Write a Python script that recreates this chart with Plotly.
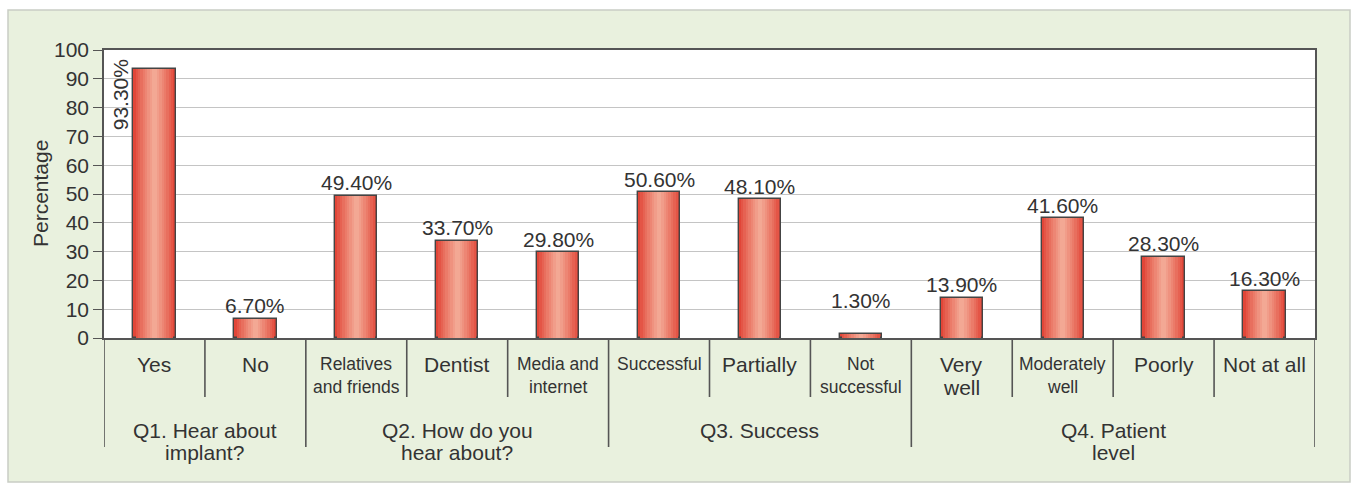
import plotly.graph_objects as go

# ---- data ----
categories = ["Yes", "No",
              "Relatives<br>and friends", "Dentist", "Media and<br>internet",
              "Successful", "Partially", "Not<br>successful",
              "Very<br>well", "Moderately<br>well", "Poorly", "Not at all"]
values = [93.3, 6.7, 49.4, 33.7, 29.8, 50.6, 48.1, 1.3, 13.9, 41.6, 28.3, 16.3]
value_labels = ["93.30%", "6.70%", "49.40%", "33.70%", "29.80%", "50.60%",
                "48.10%", "1.30%", "13.90%", "41.60%", "28.30%", "16.30%"]
groups = ["Q1. Hear about<br>implant?", "Q2. How do you<br>hear about?",
          "Q3. Success", "Q4. Patient<br>level"]
group_sizes = [2, 3, 3, 4]

# ---- styling ----
W, H = 1353, 486
L, R, T, B = 104, 1315, 50, 338          # plot area in pixels
TEXT = "#333333"
LINE = "#555555"
FONT = "Liberation Sans, Arial, sans-serif"
small_cats = {2, 4, 5, 7, 9}               # longer labels set in a smaller size
rotated_labels = {0}
label_lift = {7: 21}

def px_x(p):
    return (p - L) / (R - L)

def px_y(p):
    return (B - p) / (B - T)

n = len(categories)
xs = list(range(n))

fig = go.Figure()

# bars drawn as stacked layers of decreasing width to give a cylindrical shading
edge = (225, 70, 56)
centre = (243, 168, 148)
layers = 9
bar_w = 0.42
for k in range(layers):
    t = (k / (layers - 1)) ** 0.9
    col = tuple(round(edge[i] + (centre[i] - edge[i]) * t) for i in range(3))
    w = bar_w * (1 - k / layers)
    fig.add_trace(go.Bar(
        x=xs, y=values, width=w,
        marker=dict(color="rgb(%d,%d,%d)" % col,
                    line=dict(color="#444444" if k == 0 else "rgba(0,0,0,0)",
                              width=1.4 if k == 0 else 0)),
        hoverinfo="skip", showlegend=False))

shapes = []
# light green panel behind the chart, white plotting area on top of it
shapes.append(dict(type="rect", xref="paper", yref="paper", layer="below",
                   x0=px_x(8), x1=px_x(1350), y0=px_y(482), y1=px_y(10),
                   fillcolor="#e9f1de", line=dict(color="#c9cdc5", width=1.5)))
shapes.append(dict(type="rect", xref="paper", yref="paper", layer="below",
                   x0=0, x1=1, y0=0, y1=1,
                   fillcolor="white", line=dict(width=0)))

# separators between categories and groups
group_edges = set()
acc = 0
group_centres = []
for s in group_sizes:
    group_edges.add(acc)
    group_centres.append(acc + (s - 1) / 2)
    acc += s
group_edges.add(acc)
for b in range(n + 1):
    long = b in group_edges
    shapes.append(dict(type="line", xref="x", yref="paper",
                       x0=b - 0.5, x1=b - 0.5, y0=0,
                       y1=px_y(447 if long else 397),
                       line=dict(color=LINE, width=1.6)))

annotations = []
# value labels
for i, (v, lab) in enumerate(zip(values, value_labels)):
    if i in rotated_labels:
        annotations.append(dict(x=i, y=v, xref="x", yref="y", text=lab,
                                textangle=-90, showarrow=False,
                                xanchor="center", yanchor="top",
                                xshift=-34, yshift=12,
                                font=dict(family=FONT, size=21, color=TEXT)))
    else:
        annotations.append(dict(x=i, y=v, xref="x", yref="y", text=lab,
                                showarrow=False, xanchor="center", yanchor="middle",
                                yshift=13 + label_lift.get(i, 0),
                                font=dict(family=FONT, size=21, color=TEXT)))

# category labels, one annotation per line
LINE_GAP = 23
for i, c in enumerate(categories):
    size = 17.5 if i in small_cats else 21
    for j, part in enumerate(c.split("<br>")):
        annotations.append(dict(x=i, y=px_y(364 + j * LINE_GAP), xref="x", yref="paper",
                                text=part, showarrow=False, xanchor="center",
                                yanchor="middle",
                                font=dict(family=FONT, size=size, color=TEXT)))

# group labels
for gc, g in zip(group_centres, groups):
    for j, part in enumerate(g.split("<br>")):
        annotations.append(dict(x=gc, y=px_y(430 + j * 22), xref="x", yref="paper",
                                text=part, showarrow=False, xanchor="center",
                                yanchor="middle",
                                font=dict(family=FONT, size=21, color=TEXT)))

# y-axis title
annotations.append(dict(x=px_x(40), y=px_y(194), xref="paper", yref="paper",
                        text="Percentage", textangle=-90, showarrow=False,
                        xanchor="center", yanchor="middle",
                        font=dict(family=FONT, size=21, color=TEXT)))

fig.update_layout(
    width=W, height=H,
    margin=dict(l=L, r=W - R, t=T, b=H - B, pad=0),
    paper_bgcolor="white", plot_bgcolor="rgba(0,0,0,0)",
    barmode="overlay", bargap=0,
    shapes=shapes, annotations=annotations,
    xaxis=dict(range=[-0.5, n - 0.5], showticklabels=False, showgrid=False,
               zeroline=False, showline=True, linecolor=LINE, linewidth=1.6,
               mirror=True, ticks=""),
    yaxis=dict(range=[0, 100], dtick=10, showgrid=True, gridcolor="#c4c4c4",
               gridwidth=1, zeroline=False, showline=True, linecolor=LINE,
               linewidth=1.6, mirror=True, ticks="outside", ticklen=9,
               tickcolor=LINE, tickwidth=1.4,
               tickfont=dict(family=FONT, size=21, color=TEXT)),
    font=dict(family=FONT, color=TEXT),
)

fig.write_html("out.html")
